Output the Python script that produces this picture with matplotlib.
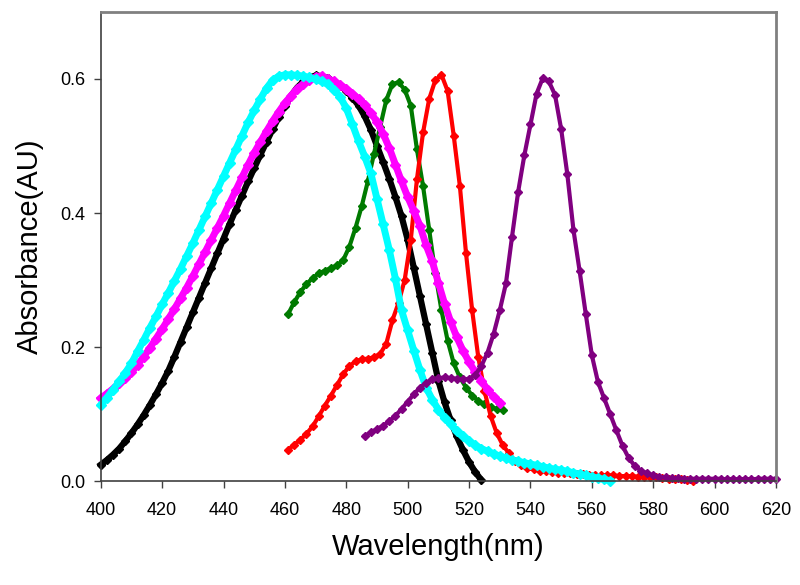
import numpy as np
import matplotlib
matplotlib.use('Agg')
from matplotlib import pyplot as plt

plt.rcParams['font.family'] = ['Liberation Sans', 'DejaVu Sans']

# absorbance spectra (2 nm steps)
wl_black = np.arange(400, 525, 2)
abs_black = [0.025, 0.032, 0.040, 0.049, 0.060, 0.072, 0.085, 0.099, 0.114, 0.130,
             0.147, 0.165, 0.186, 0.208, 0.230, 0.252, 0.274, 0.296, 0.318, 0.340,
             0.362, 0.384, 0.405, 0.426, 0.447, 0.467, 0.487, 0.506, 0.525, 0.543,
             0.560, 0.575, 0.587, 0.596, 0.602, 0.605, 0.604, 0.601, 0.596, 0.590,
             0.582, 0.572, 0.560, 0.544, 0.524, 0.500, 0.476, 0.451, 0.424, 0.395,
             0.360, 0.318, 0.276, 0.234, 0.192, 0.150, 0.118, 0.091, 0.067, 0.047,
             0.029, 0.014, 0.002]

wl_magenta = np.arange(400, 531, 2)
abs_magenta = [0.124, 0.131, 0.138, 0.146, 0.154, 0.163, 0.174, 0.186, 0.199, 0.213,
               0.227, 0.242, 0.257, 0.273, 0.289, 0.306, 0.324, 0.342, 0.360, 0.378,
               0.396, 0.415, 0.434, 0.453, 0.472, 0.490, 0.506, 0.522, 0.537, 0.551,
               0.564, 0.575, 0.585, 0.592, 0.598, 0.603, 0.604, 0.600, 0.596, 0.591,
               0.585, 0.578, 0.570, 0.561, 0.549, 0.536, 0.518, 0.497, 0.472, 0.447,
               0.424, 0.403, 0.381, 0.352, 0.328, 0.296, 0.265, 0.238, 0.215, 0.195,
               0.178, 0.163, 0.150, 0.137, 0.126, 0.117]

wl_cyan = np.arange(400, 567, 2)
abs_cyan = [0.114, 0.125, 0.137, 0.149, 0.162, 0.176, 0.194, 0.211, 0.229, 0.246,
            0.264, 0.281, 0.299, 0.317, 0.336, 0.355, 0.375, 0.395, 0.415, 0.435,
            0.455, 0.475, 0.495, 0.515, 0.535, 0.553, 0.570, 0.586, 0.598, 0.604,
            0.606, 0.606, 0.605, 0.604, 0.602, 0.599, 0.596, 0.592, 0.584, 0.573,
            0.556, 0.532, 0.507, 0.484, 0.459, 0.421, 0.383, 0.345, 0.302, 0.255,
            0.225, 0.195, 0.166, 0.140, 0.122, 0.107, 0.095, 0.085, 0.075, 0.067,
            0.060, 0.054, 0.049, 0.045, 0.041, 0.038, 0.035, 0.032, 0.030, 0.028,
            0.026, 0.024, 0.022, 0.020, 0.018, 0.017, 0.015, 0.013, 0.011, 0.009,
            0.007, 0.005, 0.003, 0.001]

wl_green = np.arange(461, 532, 2)
abs_green = [0.249, 0.267, 0.282, 0.294, 0.303, 0.310, 0.314, 0.318, 0.322, 0.330,
             0.350, 0.378, 0.410, 0.447, 0.488, 0.528, 0.568, 0.592, 0.595, 0.584,
             0.560, 0.495, 0.440, 0.375, 0.310, 0.255, 0.210, 0.176, 0.155, 0.140,
             0.128, 0.120, 0.115, 0.111, 0.108, 0.106]

wl_red = np.arange(461, 594, 2)
abs_red = [0.047, 0.055, 0.062, 0.071, 0.082, 0.097, 0.113, 0.128, 0.144, 0.160,
           0.172, 0.179, 0.182, 0.183, 0.185, 0.190, 0.205, 0.240, 0.266, 0.300,
           0.360, 0.450, 0.520, 0.570, 0.598, 0.606, 0.582, 0.515, 0.440, 0.340,
           0.255, 0.185, 0.135, 0.098, 0.072, 0.054, 0.042, 0.030, 0.024, 0.020,
           0.018, 0.016, 0.015, 0.014, 0.013, 0.012, 0.012, 0.011, 0.011, 0.010,
           0.010, 0.009, 0.009, 0.009, 0.008, 0.008, 0.008, 0.007, 0.007, 0.006,
           0.006, 0.005, 0.004, 0.004, 0.003, 0.002, 0.001]

wl_purple = np.arange(486, 621, 2)
abs_purple = [0.068, 0.073, 0.078, 0.083, 0.090, 0.098, 0.108, 0.119, 0.130, 0.140,
              0.147, 0.152, 0.154, 0.155, 0.154, 0.153, 0.152, 0.153, 0.159, 0.172,
              0.192, 0.220, 0.255, 0.295, 0.365, 0.432, 0.486, 0.532, 0.578, 0.601,
              0.596, 0.576, 0.525, 0.458, 0.375, 0.314, 0.250, 0.188, 0.148, 0.124,
              0.100, 0.076, 0.053, 0.035, 0.023, 0.016, 0.012, 0.009, 0.007, 0.006,
              0.005, 0.005, 0.004, 0.004, 0.004, 0.004, 0.004, 0.004, 0.004, 0.003,
              0.004, 0.003, 0.004, 0.003, 0.004, 0.004, 0.004, 0.004]

x_ticks = [400, 420, 440, 460, 480, 500, 520, 540, 560, 580, 600, 620]
y_ticks = [0.0, 0.2, 0.4, 0.6]

fig = plt.figure(figsize=(8, 5.85), dpi=100)
ax = fig.add_axes([0.126, 0.177, 0.844, 0.803])

# thick, densely marked curves first, thin ones with visible markers on top
ax.plot(wl_black, abs_black, color='black', lw=4.5, marker='D', ms=4.5, clip_on=False)
ax.plot(wl_green, abs_green, color='#007a00', lw=3, marker='D', ms=4.5, clip_on=False)
ax.plot(wl_red, abs_red, color='#ff0000', lw=3, marker='D', ms=4.5, clip_on=False)
ax.plot(wl_magenta, abs_magenta, color='#ff00ff', lw=5, marker='D', ms=5, clip_on=False)
ax.plot(wl_cyan, abs_cyan, color='#00ffff', lw=5, marker='D', ms=5, clip_on=False)
ax.plot(wl_purple, abs_purple, color='#800080', lw=3, marker='D', ms=4.5, clip_on=False)

ax.set_xlim(400, 620)
ax.set_ylim(0, 0.7)
ax.set_xticks(x_ticks)
ax.set_yticks(y_ticks)
ax.set_yticklabels(['%.1f' % v for v in y_ticks])
ax.tick_params(direction='out', length=5, width=1, color='#404040', labelsize=13)
ax.tick_params(axis='x', pad=10)
ax.tick_params(axis='y', pad=6)

for side in ['left', 'bottom']:
    ax.spines[side].set_color('#404040')
    ax.spines[side].set_linewidth(1.2)
for side in ['top', 'right']:
    ax.spines[side].set_color('#808080')
    ax.spines[side].set_linewidth(2)

ax.set_xlabel('Wavelength(nm)', fontsize=21, labelpad=10)
ax.set_ylabel('Absorbance(AU)', fontsize=21, labelpad=12)

fig.savefig('out.png', dpi=100)
